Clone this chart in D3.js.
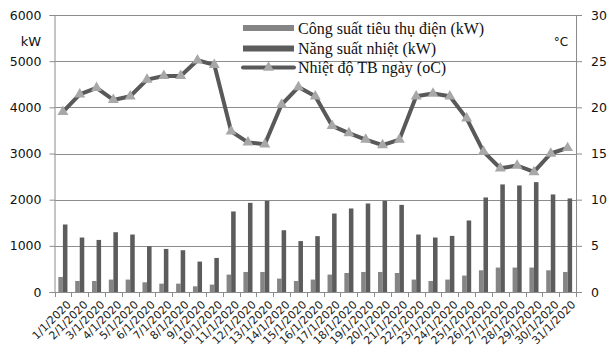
<!DOCTYPE html>
<html>
<head>
<meta charset="utf-8">
<script src="https://cdn.jsdelivr.net/npm/d3@7"></script>
<style>
  html, body { margin: 0; padding: 0; background: #fff; }
  svg { display: block; }
</style>
</head>
<body>
<svg id="chart" width="607" height="349"></svg>
<script>
// Daily data for January 2020
const days = ["1/1/2020","2/1/2020","3/1/2020","4/1/2020","5/1/2020","6/1/2020","7/1/2020","8/1/2020",
  "9/1/2020","10/1/2020","11/1/2020","12/1/2020","13/1/2020","14/1/2020","15/1/2020","16/1/2020",
  "17/1/2020","18/1/2020","19/1/2020","20/1/2020","21/1/2020","22/1/2020","23/1/2020","24/1/2020",
  "25/1/2020","26/1/2020","27/1/2020","28/1/2020","29/1/2020","30/1/2020","31/1/2020"];

// Công suất tiêu thụ điện (kW)
const powerKW = [325,239,239,269,269,210,181,181,123,160,377,434,434,290,239,269,
  377,412,434,434,412,269,239,269,356,470,529,529,529,470,434];

// Năng suất nhiệt (kW)
const heatKW = [1462,1180,1128,1295,1245,991,933,905,659,738,1744,1931,1974,1338,1103,1210,
  1700,1809,1917,1974,1887,1245,1180,1215,1549,2048,2330,2308,2380,2113,2026];

// Nhiệt độ TB ngày (oC)
const tempC = [19.5,21.4,22.1,20.8,21.2,23.0,23.4,23.4,25.1,24.6,17.4,16.2,16.0,20.3,22.2,21.2,
  18.0,17.2,16.5,15.9,16.5,21.2,21.5,21.2,18.8,15.2,13.4,13.7,13.0,15.0,15.6];

const leftTicks = [0,1000,2000,3000,4000,5000,6000];
const rightTicks = [0,5,10,15,20,25,30];
const seriesNames = ["Công suất tiêu thụ điện (kW)", "Năng suất nhiệt (kW)", "Nhiệt độ TB ngày (oC)"];

const W = 607, H = 349;
const margin = {top: 15, right: 31, bottom: 57, left: 54.5};
const svg = d3.select("#chart");

const x = d3.scaleBand().domain(days).range([margin.left, W - margin.right]).padding(0);
const yL = d3.scaleLinear().domain([0, 6000]).range([H - margin.bottom, margin.top]);
const yR = d3.scaleLinear().domain([0, 30]).range([H - margin.bottom, margin.top]);

const colPower = "#858585", colHeat = "#5c5c5c", colLine = "#595959", colMarker = "#a8a8a8";
const gridCol = "#8c8c8c";
const tickFont = "DejaVu Sans, Verdana, sans-serif";

// horizontal gridlines
svg.append("g").selectAll("line").data(leftTicks).join("line")
  .attr("x1", margin.left).attr("x2", W - margin.right)
  .attr("y1", d => Math.round(yL(d)) + 0.5).attr("y2", d => Math.round(yL(d)) + 0.5)
  .attr("stroke", gridCol).attr("stroke-width", 1);

// bars
const bw = x.bandwidth() * 0.27;
const barG = svg.append("g");
barG.selectAll("rect.p").data(days).join("rect").attr("class", "p")
  .attr("x", (d) => x(d) + x.bandwidth() / 2 - bw)
  .attr("width", bw)
  .attr("y", (d, i) => yL(powerKW[i]))
  .attr("height", (d, i) => yL(0) - yL(powerKW[i]))
  .attr("fill", colPower);
barG.selectAll("rect.h").data(days).join("rect").attr("class", "h")
  .attr("x", (d) => x(d) + x.bandwidth() / 2)
  .attr("width", bw)
  .attr("y", (d, i) => yL(heatKW[i]))
  .attr("height", (d, i) => yL(0) - yL(heatKW[i]))
  .attr("fill", colHeat);

// left axis
const axL = d3.axisLeft(yL).tickValues(leftTicks).tickSize(5).tickPadding(8).tickFormat(d3.format("d"));
const gL = svg.append("g").attr("transform", `translate(${margin.left},0)`).call(axL);
gL.select(".domain").attr("stroke", gridCol);
gL.selectAll(".tick line").attr("stroke", gridCol);
gL.selectAll("text").attr("font-family", tickFont).attr("font-size", 12.5).attr("fill", "#111");

// right axis
const axR = d3.axisRight(yR).tickValues(rightTicks).tickSize(6).tickPadding(9);
const gR = svg.append("g").attr("transform", `translate(${W - margin.right},0)`).call(axR);
gR.select(".domain").attr("stroke", gridCol);
gR.selectAll(".tick line").attr("stroke", gridCol);
gR.selectAll("text").attr("font-family", tickFont).attr("font-size", 12.5).attr("fill", "#111");

// bottom axis
const axB = d3.axisBottom(x).tickSize(0).tickFormat(d => d);
const gB = svg.append("g").attr("transform", `translate(0,${H - margin.bottom})`).call(axB);
gB.select(".domain").attr("stroke", gridCol);
gB.selectAll(".tick text")
  .attr("font-family", tickFont).attr("font-size", 11).attr("fill", "#222")
  .attr("text-anchor", "end")
  .attr("transform", "translate(6,10.5) rotate(-45)")
  .attr("dy", "0.35em").attr("y", 0);
// boundary tick marks between days
const bounds = days.map(d => x(d)).concat([W - margin.right]);
gB.selectAll("line.b").data(bounds).join("line").attr("class", "b")
  .attr("x1", d => Math.round(d) + 0.5).attr("x2", d => Math.round(d) + 0.5)
  .attr("y1", 0).attr("y2", 5).attr("stroke", gridCol);

// temperature line
const line = d3.line().x((d, i) => x(days[i]) + x.bandwidth() / 2).y(d => yR(d));
svg.append("path").datum(tempC).attr("d", line)
  .attr("fill", "none").attr("stroke", colLine).attr("stroke-width", 4)
  .attr("stroke-linejoin", "round");

const tri = d3.symbol().type(d3.symbolTriangle).size(52);
svg.append("g").selectAll("path").data(tempC).join("path")
  .attr("d", tri)
  .attr("transform", (d, i) => `translate(${x(days[i]) + x.bandwidth() / 2},${yR(d)})`)
  .attr("fill", colMarker);

// unit labels
svg.append("text").attr("x", 31).attr("y", 46).attr("text-anchor", "middle")
  .attr("font-family", tickFont).attr("font-size", 13).attr("fill", "#111").text("kW");
svg.append("text").attr("x", 561).attr("y", 46).attr("text-anchor", "middle")
  .attr("font-family", tickFont).attr("font-size", 12).attr("fill", "#111").text("°C");

// legend
const lg = svg.append("g");
const rowsY = [28, 48.5, 67.5];
lg.append("rect").attr("x", 243).attr("y", rowsY[0] - 3).attr("width", 51).attr("height", 6).attr("fill", colPower);
lg.append("rect").attr("x", 243).attr("y", rowsY[1] - 3).attr("width", 51).attr("height", 6).attr("fill", colHeat);
lg.append("line").attr("x1", 243).attr("x2", 294).attr("y1", rowsY[2]).attr("y2", rowsY[2])
  .attr("stroke", colLine).attr("stroke-width", 4).attr("stroke-linecap", "round");
lg.append("path").attr("d", tri).attr("transform", `translate(268.5,${rowsY[2]})`).attr("fill", colMarker);
lg.selectAll("text").data(seriesNames).join("text")
  .attr("x", 298).attr("y", (d, i) => rowsY[i] + 5.5)
  .attr("font-family", "Liberation Serif, Times New Roman, serif").attr("font-size", 16)
  .attr("fill", "#111").text(d => d);
</script>
</body>
</html>
